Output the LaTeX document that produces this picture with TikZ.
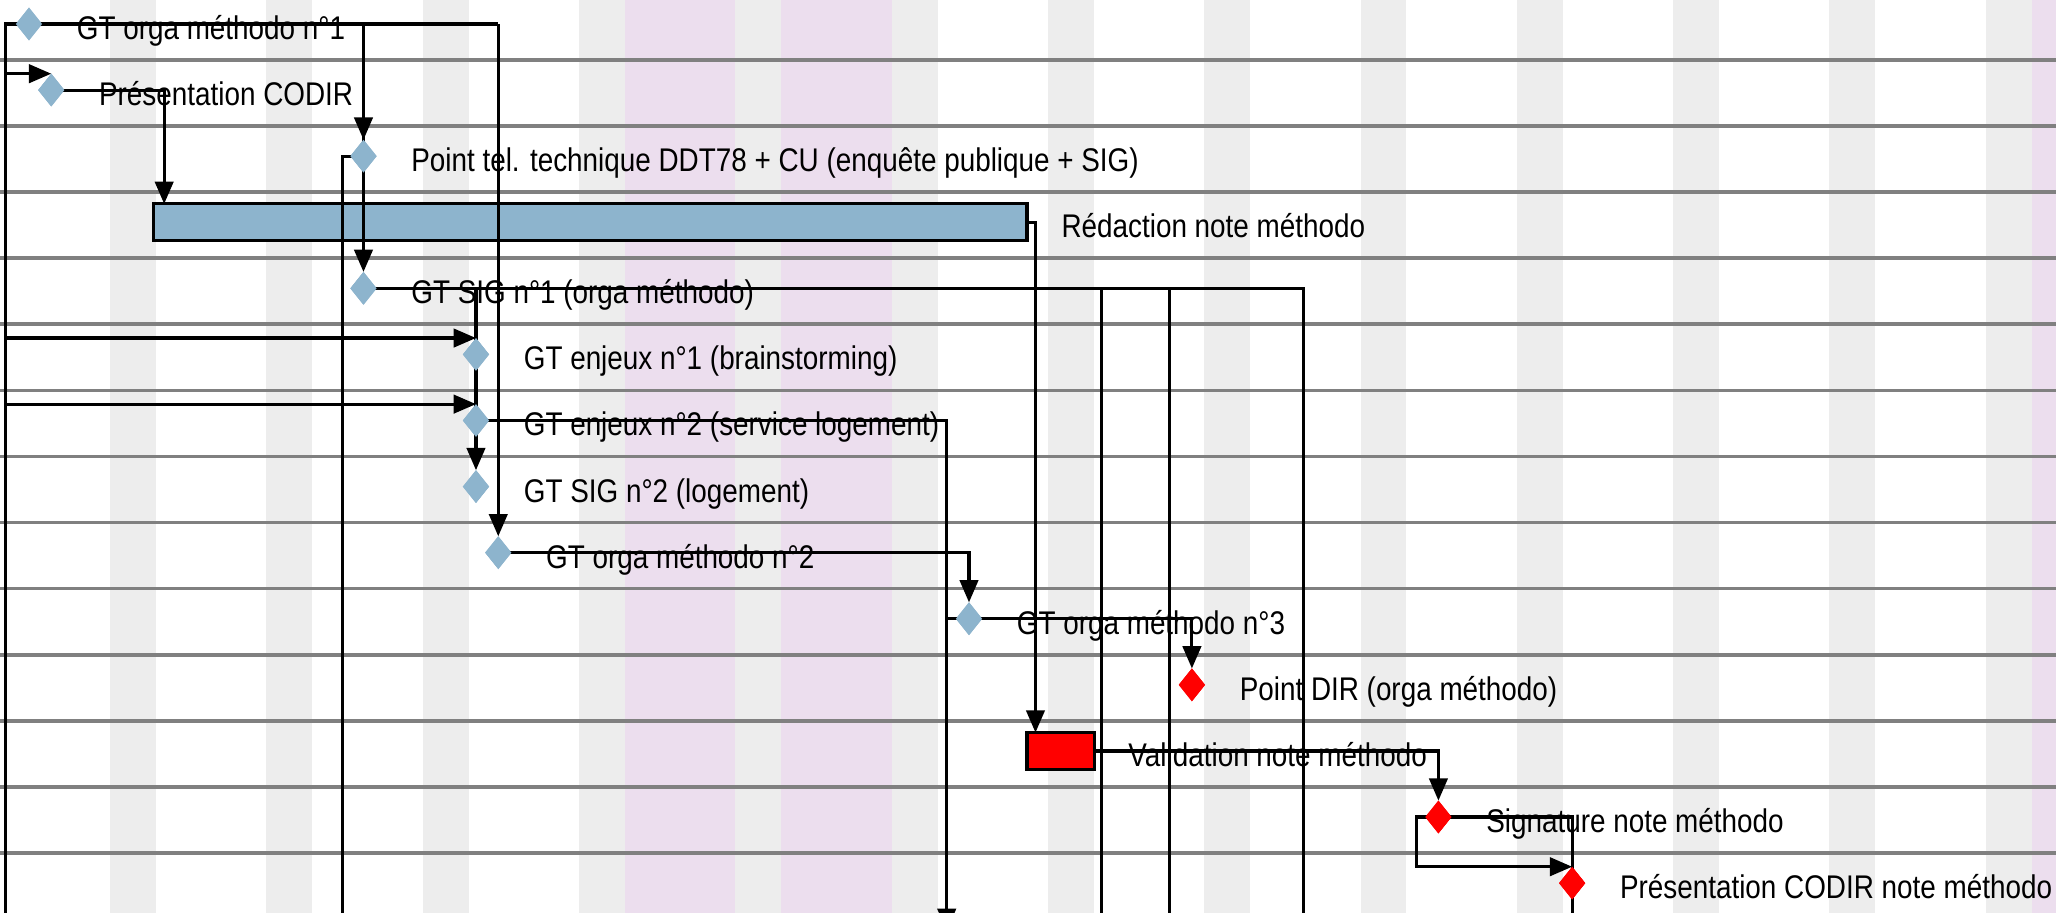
\documentclass[tikz,border=0pt]{standalone}
\usepackage{fontspec}
\setmainfont[FakeStretch=0.85]{Liberation Sans}
\usetikzlibrary{arrows.meta,shapes.geometric,calc}

\definecolor{wkgray}{RGB}{237,237,237}
\definecolor{holpink}{RGB}{236,222,238}
\definecolor{rowline}{RGB}{128,128,128}
\definecolor{taskblue}{RGB}{141,180,205}
\definecolor{critred}{RGB}{255,0,0}

\tikzset{
  ms/.style={diamond, draw=none, fill=taskblue, inner sep=0pt, outer sep=0pt,
             minimum width=20pt, minimum height=25pt},
  msred/.style={ms, fill=critred},
  taskbar/.style={rectangle, draw=black, line width=2.4pt, fill=taskblue,
             inner sep=0pt, outer sep=0pt, minimum height=28pt, anchor=west},
  redbar/.style={taskbar, fill=critred},
  lbl/.style={anchor=base west, inner sep=0pt, text=black,
             font=\fontsize{25}{30}\selectfont},
  link/.style={draw=black, line width=2.4pt},
  linkarrow/.style={link, -{Triangle[length=17pt,width=14pt]}},
  weekend/.style={fill=wkgray, draw=none},
  holiday/.style={fill=holpink, draw=none},
  rowrule/.style={draw=rowline, line width=2.8pt},
}

\begin{document}
\begin{tikzpicture}[x=1pt,y=-1pt]
\useasboundingbox (0,0) rectangle (1568,696);
\clip (0,0) rectangle (1568,696);
\fill[white] (0,0) rectangle (1568,696);

% calendar background
\foreach \k in {0,...,12}
  \fill[weekend] ({84+119.2*\k},0) rectangle ({119+119.2*\k},696);
\fill[holiday] (476.6,0) rectangle (560.8,696);
\fill[holiday] (595.8,0) rectangle (680,696);
\fill[holiday] (1549.4,0) rectangle (1568,696);

% row rules
\foreach \k in {0,...,12}
  \draw[rowrule] (0,{45.7+50.4*\k}) -- (1568,{45.7+50.4*\k});

% bars
\node[taskbar, minimum width=665.9pt] (bar1) at (117.3,169.5) {};
\node[redbar, minimum width=51.8pt] (bar2) at (783.2,572.7) {};

% milestone positions
\coordinate (p0) at (22.1,18.3);
\coordinate (p1) at (39.1,68.7);
\coordinate (p2) at (277.2,119.1);
\coordinate (p4) at (277.2,219.9);
\coordinate (p5) at (363,270.3);
\coordinate (p6) at (363,320.7);
\coordinate (p7) at (363,371.1);
\coordinate (p8) at (380,421.5);
\coordinate (p9) at (739,471.9);
\coordinate (p10) at (909,522.3);
\coordinate (p12) at (1097,623.1);
\coordinate (p13) at (1199,673.5);

% labels
\node[lbl] (t0) at ($(p0)+(36.3,11.8)$) {GT orga méthodo n°1};
\node[lbl] (t1) at ($(p1)+(36.3,11.8)$) {Présentation CODIR};
\node[lbl] (t2) at ($(p2)+(36.3,11.8)$) {Point tel. technique DDT78 + CU (enquête publique + SIG)};
\node[lbl] (t3) at (809.4,181.3) {Rédaction note méthodo};
\node[lbl] (t4) at ($(p4)+(36.3,11.8)$) {GT SIG n°1 (orga méthodo)};
\node[lbl] (t5) at ($(p5)+(36.3,11.8)$) {GT enjeux n°1 (brainstorming)};
\node[lbl] (t6) at ($(p6)+(36.3,11.8)$) {GT enjeux n°2 (service logement)};
\node[lbl] (t7) at ($(p7)+(36.3,11.8)$) {GT SIG n°2 (logement)};
\node[lbl] (t8) at ($(p8)+(36.3,11.8)$) {GT orga méthodo n°2};
\node[lbl] (t9) at ($(p9)+(36.3,11.8)$) {GT orga méthodo n°3};
\node[lbl] (t10) at ($(p10)+(36.3,11.8)$) {Point DIR (orga méthodo)};
\node[lbl] (t11) at (860.4,584.5) {Validation note méthodo};
\node[lbl] (t12) at ($(p12)+(36.3,11.8)$) {Signature note méthodo};
\node[lbl] (t13) at ($(p13)+(36.3,11.8)$) {Présentation CODIR note méthodo};

% milestones as named nodes (anchors; refilled on top below)
\path (p0) node[ms] (d0) {};
\path (p1) node[ms] (d1) {};
\path (p2) node[ms] (d2) {};
\path (p4) node[ms] (d4) {};
\path (p5) node[ms] (d5) {};
\path (p6) node[ms] (d6) {};
\path (p7) node[ms] (d7) {};
\path (p8) node[ms] (d8) {};
\path (p9) node[ms] (d9) {};
\path (p10) node[msred] (d10) {};
\path (p12) node[msred] (d12) {};
\path (p13) node[msred] (d13) {};

% helper coordinates for free ends and bends
\coordinate (busTop) at (4.5,18.3);
\coordinate (busEnd) at (4.5,700);
\coordinate (topEnd) at (380,18.3);
\coordinate (d2out) at (261,700);
\coordinate (d4outA) at (840,700);
\coordinate (d4outB) at (892,700);
\coordinate (d4outC) at (994,700);
\coordinate (d6out) at (722,710);
\coordinate (d12out) at (1199,700);
\coordinate (d12back) at (1080.3,623.1);

% connectors
\draw[link] (busEnd) -- (busTop) -- (topEnd);
\draw[linkarrow] (busTop |- d1.north) -- (d1.north);
\draw[linkarrow] (busTop |- d5.north) -- (d5.north);
\draw[linkarrow] (busTop |- d6.north) -- (d6.north);
\draw[linkarrow] (d2.north |- busTop) -- (d2.north);
\draw[linkarrow] (d4.north |- busTop) -- (d4.north);
\draw[linkarrow] (topEnd) -- (d8.north);
\draw[linkarrow] (d1.center) -| ($(bar1.north west)+(7.9,0)$);
\draw[link] (d2.center) -| (d2out);
\draw[linkarrow] (bar1.east) -| ($(bar2.north west)+(6.5,0)$);
\draw[link] (d4.center) -| (d4outC);
\draw[link] (d4outA |- d4.center) -- (d4outA);
\draw[link] (d4outB |- d4.center) -- (d4outB);
\draw[linkarrow] (d7.north |- d4.center) -- (d7.north);
\draw[linkarrow] (d6.center) -| (d6out);
\draw[link] (d6out |- d9.center) -- (d9.center);
\draw[linkarrow] (d8.center) -| (d9.north);
\draw[linkarrow] (d9.center) -| (d10.north);
\draw[linkarrow] (bar2.east) -| (d12.north);
\draw[link] (d12.center) -| (d12out);
\draw[linkarrow] (d12.center) -- (d12back) |- (d13.north);

% milestones on top of connectors
\foreach \n in {d0,d1,d2,d4,d5,d6,d7,d8,d9}
  \fill[taskblue] (\n.north) -- (\n.east) -- (\n.south) -- (\n.west) -- cycle;
\foreach \n in {d10,d12,d13}
  \fill[critred] (\n.north) -- (\n.east) -- (\n.south) -- (\n.west) -- cycle;
\end{tikzpicture}
\end{document}
